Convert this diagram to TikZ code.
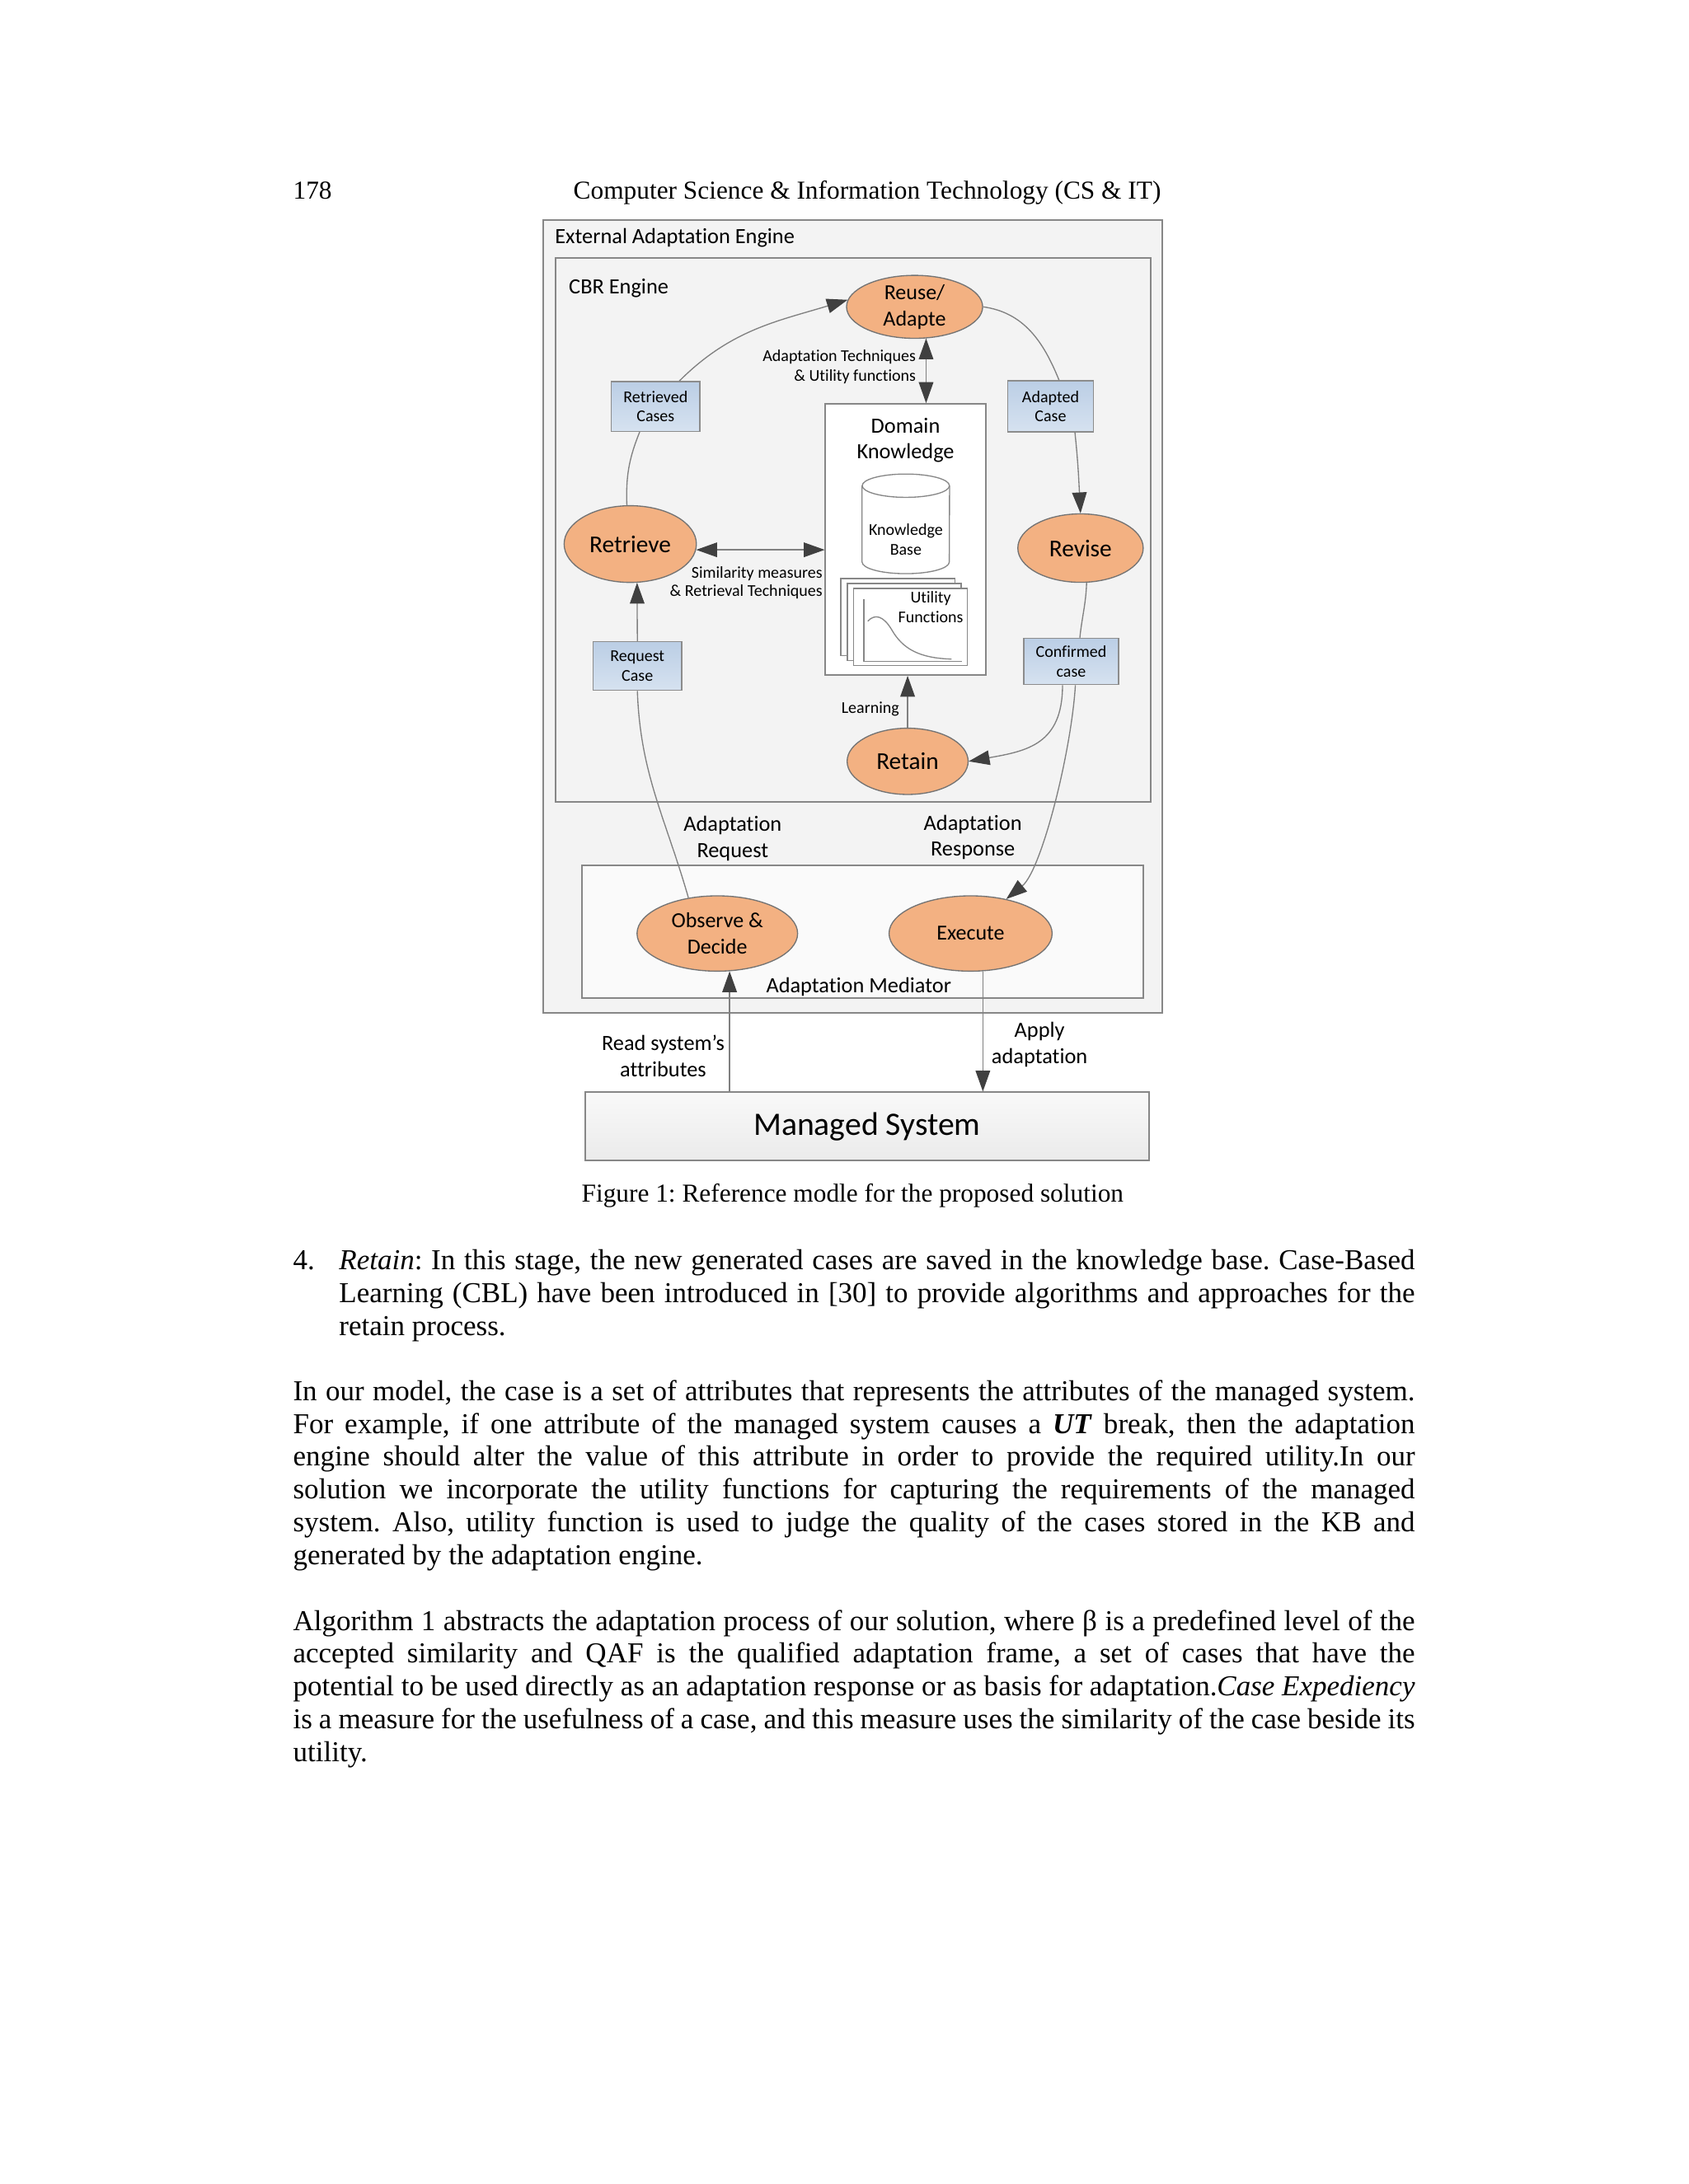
\documentclass[tikz,border=0pt]{standalone}
\usepackage{fontspec}
\setmainfont{Liberation Serif}
\newfontfamily\calibri[Ligatures={TeX,NoCommon}]{Carlito}
\usetikzlibrary{shapes.geometric}
\usetikzlibrary{arrows.meta}
\usetikzlibrary{positioning}
\frenchspacing

\definecolor{stageorange}{RGB}{243,177,130}
\definecolor{caseblue}{RGB}{187,206,229}
\definecolor{casebluelight}{RGB}{214,226,240}
\definecolor{frame}{RGB}{135,135,135}
\definecolor{panel}{RGB}{243,243,243}
\definecolor{tipgray}{RGB}{64,64,64}

\tikzset{
    lbl/.style={inner sep=0pt, font=\calibri\fontsize{7.9}{9.5}\selectfont},
    smalltxt/.style={inner sep=0pt, font=\calibri\fontsize{6}{7.1}\selectfont},
    stage/.style={ellipse, draw=black!55, fill=stageorange, inner sep=0pt, align=center,
        font=\calibri\fontsize{8.8}{10.5}\selectfont},
    stagesmall/.style={stage, font=\calibri\fontsize{7.8}{9.5}\selectfont},
    casebox/.style={rectangle, draw=black!45, top color=caseblue, bottom color=casebluelight,
        minimum width=32.2pt, minimum height=18.1pt, inner sep=0pt, align=center,
        font=\calibri\fontsize{6}{7.1}\selectfont},
    cnx/.style={draw=black!50, line width=0.4pt},
    arr/.style={cnx, -{Triangle[length=7.6pt, width=5.3pt, color=tipgray]}},
    darr/.style={cnx, {Triangle[length=7.6pt, width=5.3pt, color=tipgray]}-{Triangle[length=7.6pt, width=5.3pt, color=tipgray]}},
    bodytext/.style={inner sep=0pt, font=\fontsize{10.5}{11.92}\selectfont}
}

\begin{document}
\begin{tikzpicture}[x=0.017813cm, y=-0.017813cm]
    \fill[white] (0, 0) rectangle (1212, 1568);
    \useasboundingbox (0, 0) rectangle (1212, 1568);

    % running head
    \node[anchor=base west, inner sep=0pt, font=\fontsize{9.4}{11}\selectfont] (pgno) at (210, 143) {178};
    \node[anchor=base, inner sep=0pt, font=\fontsize{9.4}{11}\selectfont] (runhead) at (622.5, 143)
        {Computer Science \& Information Technology (CS \& IT)};

    % engine frames
    \draw[frame, line width=0.6pt, fill=panel] (390, 158) rectangle (834, 727);
    \node[lbl, anchor=west] (eaetitle) at (398, 171) {External Adaptation Engine};
    \draw[frame, line width=0.6pt, fill=panel] (399, 185) rectangle (826, 576);
    \node[lbl, anchor=west] (cbrtitle) at (408, 207) {CBR Engine};
    \draw[frame, line width=0.6pt, fill=white!60!panel] (417.5, 621) rectangle (820.8, 716.5);
    \node[lbl] (medtitle) at (616.4, 708.6) {Adaptation Mediator};

    % domain knowledge
    \node[draw=frame, line width=0.6pt, fill=white, minimum width=58.4pt, minimum height=98.6pt, inner sep=0pt] (dk) at (650.2, 387.3) {};
    \node[lbl, align=center] (dktitle) at (650, 316.1) {Domain\\Knowledge};
    \draw[frame, fill=white] (618.8, 348.7) -- (618.8, 403.5)
        arc[start angle=180, end angle=360, x radius=15.86pt, y radius=4.24pt] -- (681.6, 348.7);
    \draw[frame, fill=white] (650.2, 348.7) ellipse [x radius=15.86pt, y radius=4.24pt];
    \node[smalltxt, align=center] (kbase) at (650.2, 387.4) {Knowledge\\Base};
    \foreach \dx/\dy in {0/0, 4.6/3.6, 9.2/7.2}
        \draw[frame, fill=white] (603.6+\dx, 415.3+\dy) rectangle ++(81.7, 55.2);
    \draw[frame] (620, 430.4) -- (620, 474.8) -- (690.3, 474.8);
    \draw[frame] (622.9, 446) .. controls (628, 440.5) and (634, 442) .. (640, 452)
        .. controls (648, 466) and (660, 472.5) .. (683, 473.2);
    \node[smalltxt, align=center] (utilfn) at (668.1, 435.7) {Utility\\Functions};

    % CBR cycle
    \node[stagesmall, minimum width=49.5pt, minimum height=22.9pt, inner sep=-1pt] (reuse) at (656.5, 220.3) {Reuse/\\Adapte};
    \node[stage, minimum width=48.1pt, minimum height=27.9pt] (retr) at (452.4, 390.6) {Retrieve};
    \node[stage, minimum width=45.6pt, minimum height=24.9pt] (rev) at (775.6, 393.5) {Revise};
    \node[stage, minimum width=44pt, minimum height=24.1pt] (ret) at (651.5, 546.6) {Retain};

    \node[casebox] (rcases) at (470.6, 291.8) {Retrieved\\Cases};
    \node[casebox, minimum width=31.2pt, minimum height=18.6pt] (acase) at (754.1, 291.7) {Adapted\\Case};
    \node[casebox, minimum height=17.7pt] (reqc) at (457.5, 478.2) {Request\\Case};
    \node[casebox, minimum width=34.5pt, minimum height=16.9pt] (ccase) at (768.9, 474.9) {Confirmed\\case};

    % mediator and managed system
    \node[stagesmall, minimum width=58.4pt, minimum height=27.4pt] (obs) at (514.9, 670.2) {Observe \&\\Decide};
    \node[stagesmall, minimum width=59.3pt, minimum height=27.4pt] (exe) at (696.7, 670.2) {Execute};
    \node[draw=frame, line width=0.6pt, top color=white!50!panel, bottom color=black!8, minimum width=205.2pt, minimum height=24.9pt,
        font=\calibri\fontsize{11.9}{14}\selectfont] (mansys) at (622.4, 808.8) {Managed System};

    % connector labels
    \node[smalltxt, anchor=east, align=right, font=\calibri\fontsize{6}{7.2}\selectfont] (adtech) at (657.8, 263.2)
        {Adaptation Techniques\\\& Utility functions};
    \node[smalltxt, anchor=east, align=right, font=\calibri\fontsize{6}{6.8}\selectfont] (simmeas) at (590.7, 418.4)
        {Similarity measures\\\& Retrieval Techniques};
    \node[smalltxt, anchor=east] (learn) at (645.8, 508.9) {Learning};
    \node[lbl, align=center] (adreq) at (525.9, 602.2) {Adaptation\\Request};
    \node[lbl, align=center] (adresp) at (698.3, 601.2) {Adaptation\\Response};
    \node[lbl, align=center] (readattr) at (476, 758) {Read system’s\\attributes};
    \node[lbl, align=center] (applyad) at (746.2, 750.1) {Apply\\adaptation};

    % connectors
    \draw[cnx] (retr.95) to[out=92, in=248] (rcases.238);
    \draw[arr] (rcases.47) to[out=45, in=197] (reuse.174);
    \draw[cnx] (reuse.east) to[out=-8, in=112] (acase.72);
    \draw[arr] (acase.313) to[out=-84, in=93] (rev.north);
    \draw[cnx] (rev.280) to[out=-92, in=84] (ccase.70);
    \draw[arr] (ccase.250) to[out=-90, in=10, looseness=1.25] (ret.east);
    \draw[arr] (ccase.280) .. controls +(-2.9, 47.8) and +(25.4, -20.8) .. (exe.44);
    \draw[cnx] (reqc.south) to[out=-88, in=106] (obs.129);
    \draw[arr] (reqc.north) -- (retr.280);
    \draw[darr] (retr.355) -- (retr.355 -| dk.west);
    \draw[darr] (reuse.290) -- (reuse.290 |- dk.north);
    \draw[arr] (ret.north) -- (ret.north |- dk.south);
    \draw[arr] (obs.288 |- mansys.north) -- (obs.288);
    \draw[arr] (exe.288) -- (exe.288 |- mansys.north);

    \node[anchor=base, inner sep=0pt, font=\fontsize{9.4}{11}\selectfont] (caption) at (612, 863)
        {Figure 1: Reference modle for the proposed solution};

    % body text
    \node[bodytext, anchor=base west] (itemno) at (210, 911.5) {4.};
    \node[bodytext, anchor=base west, text width=391.3pt, align=justify] (itemtxt) at (243, 911.5)
        {\hyphenpenalty=10000 \textit{Retain}: In this stage, the new generated cases are saved in the knowledge base. Case-Based\linebreak
        Learning (CBL) have been introduced in [30] to provide algorithms and approaches for the\linebreak
        retain process.};
    \node[bodytext, anchor=base west, text width=408pt, align=justify] (parmodel) at (210, 1005.5)
        {\hyphenpenalty=10000 In our model, the case is a set of attributes that represents the attributes of the managed system.\linebreak
        For example, if one attribute of the managed system causes a \textbf{\textit{UT}} break, then the adaptation\linebreak
        engine should alter the value of this attribute in order to provide the required utility.In our\linebreak
        solution we incorporate the utility functions for capturing the requirements of the managed\linebreak
        system. Also, utility function is used to judge the quality of the cases stored in the KB and\linebreak
        generated by the adaptation engine.};
    \node[bodytext, anchor=base west, text width=408pt, align=justify] (paralgo) at (210, 1170.5)
        {\hyphenpenalty=10000 Algorithm 1 abstracts the adaptation process of our solution, where β is a predefined level of the\linebreak
        accepted similarity and QAF is the qualified adaptation frame, a set of cases that have the\linebreak
        potential to be used directly as an adaptation response or as basis for adaptation.\textit{Case Expediency}\linebreak
        is a measure for the usefulness of a case, and this measure uses the similarity of the case beside its\linebreak
        utility.};
\end{tikzpicture}
\end{document}
